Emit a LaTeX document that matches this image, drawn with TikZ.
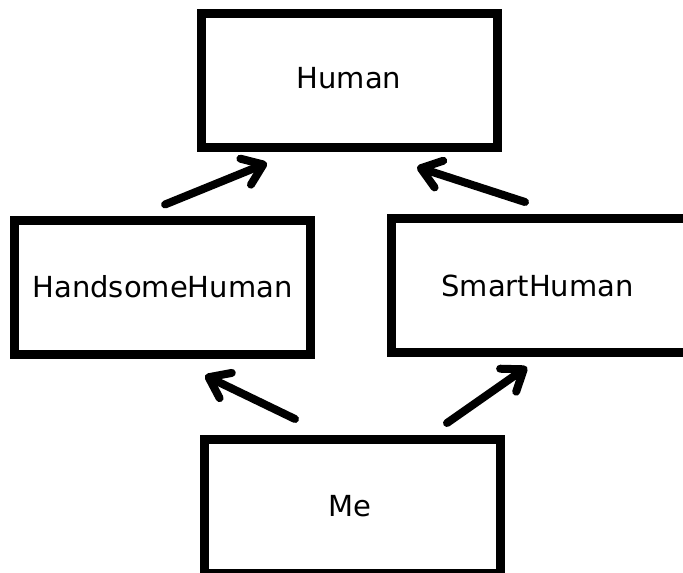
\documentclass[tikz,border=0pt]{standalone}
\usepackage{fontspec}
\setmainfont{DejaVu Sans}
\usetikzlibrary{arrows.meta}
\begin{document}
\begin{tikzpicture}[x=1pt,y=-1pt,
  box/.style={draw=black, line width=9pt, minimum width=296pt, minimum height=134pt,
    inner sep=0pt, outer sep=0pt, font=\fontsize{29}{32}\selectfont},
  arr/.style={line width=8pt, line cap=round,
    -{Straight Barb[length=19pt, width=28pt, round]}}]
\useasboundingbox (0,0) rectangle (683,573);
\fill[white] (0,0) rectangle (683,573);
\node[box] (human) at (349,80.5) {\raisebox{5pt}{Human}};
\node[box] (hh) at (162.5,287) {\raisebox{2pt}{HandsomeHuman}};
\node[box] (sh) at (539.5,285.5) {\hspace*{-4pt}SmartHuman};
\node[box] (me) at (352.5,506.5) {\hspace*{-6pt}\raisebox{2pt}{Me}};
\draw[arr] ([shift={(2.5,-15.5)}]hh.north) -- ([shift={(-82,15.5)}]human.south);
\draw[arr] ([shift={(-14.5,-16.5)}]sh.north) -- ([shift={(68,19.5)}]human.south);
\draw[arr] ([shift={(-57.5,-20.5)}]me.north) -- ([shift={(42.5,21.5)}]hh.south);
\draw[arr] ([shift={(94.5,-16.5)}]me.north) -- ([shift={(-12.5,14.5)}]sh.south);
\end{tikzpicture}
\end{document}
